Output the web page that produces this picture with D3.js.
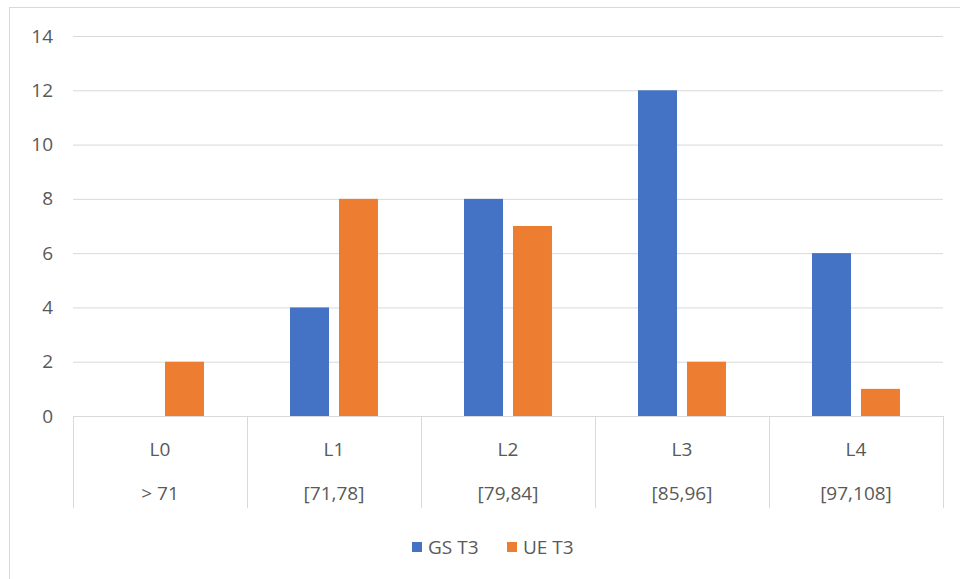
<!DOCTYPE html>
<html>
<head>
<meta charset="utf-8">
<script src="https://cdn.jsdelivr.net/npm/d3@7"></script>
<style>
  html, body { margin: 0; padding: 0; background: #fff; }
  svg { display: block; }
  text { font-family: "Open Sans", "Noto Sans", sans-serif; fill: #595959; }
</style>
</head>
<body>
<svg id="chart" width="960" height="579"></svg>
<script>
const levelLabels = ["L0", "L1", "L2", "L3", "L4"];
const rangeLabels = ["> 71", "[71,78]", "[79,84]", "[85,96]", "[97,108]"];
const seriesNames = ["GS T3", "UE T3"];
const gsValues = [0, 4, 8, 12, 6];
const ueValues = [2, 8, 7, 2, 1];
const yTicks = [0, 2, 4, 6, 8, 10, 12, 14];
const seriesColors = ["#4472C4", "#ED7D31"];

(function () {
const svg = d3.select("#chart");
const W = 960, H = 579;
const pLeft = 73, pRight = 943, pTop = 36, pBottom = 416;

// outer chart border
svg.append("rect")
  .attr("x", 9.5).attr("y", 7.5)
  .attr("width", W + 10).attr("height", H + 10)
  .attr("fill", "#fff").attr("stroke", "#d9d9d9").attr("stroke-width", 1);

const x0 = d3.scaleBand().domain(levelLabels).range([pLeft, pRight]).padding(0);
const x1 = d3.scaleBand().domain(seriesNames).range([0, x0.bandwidth()])
  .paddingInner(0.204).paddingOuter(0.878);
const y = d3.scaleLinear().domain([0, 14]).range([pBottom, pTop]);

// y axis with gridlines
const yAxis = d3.axisLeft(y).tickValues(yTicks).tickSize(-(pRight - pLeft)).tickPadding(20);
const gy = svg.append("g").attr("transform", `translate(${pLeft},0)`).call(yAxis);
gy.select(".domain").remove();
gy.selectAll(".tick line").attr("stroke", "#d9d9d9").attr("stroke-width", 1);
gy.selectAll(".tick text").style("font-size", "19px").style("font-family", "'Open Sans', sans-serif").attr("fill", "#595959");

// data rows
const rows = levelLabels.map((c, i) => ({ cat: c, range: rangeLabels[i], values: [gsValues[i], ueValues[i]] }));

const groups = svg.append("g").selectAll("g").data(rows).join("g")
  .attr("transform", d => `translate(${x0(d.cat)},0)`);
groups.selectAll("rect").data(d => d.values.map((v, j) => ({ key: seriesNames[j], v, j })))
  .join("rect")
  .attr("x", d => x1(d.key))
  .attr("width", x1.bandwidth())
  .attr("y", d => y(d.v))
  .attr("height", d => y(0) - y(d.v))
  .attr("fill", d => seriesColors[d.j]);

// category axis baseline
svg.append("line").attr("x1", pLeft).attr("x2", pRight).attr("y1", pBottom + 0.5).attr("y2", pBottom + 0.5)
  .attr("stroke", "#d9d9d9");

// dividers
const dividers = levelLabels.map(c => x0(c)).concat([pRight]);
svg.append("g").selectAll("line").data(dividers).join("line")
  .attr("x1", d => Math.round(d) + 0.5).attr("x2", d => Math.round(d) + 0.5)
  .attr("y1", pBottom).attr("y2", 508)
  .attr("stroke", "#d9d9d9");

// category labels
svg.append("g").selectAll("text").data(rows).join("text")
  .attr("x", d => x0(d.cat) + x0.bandwidth() / 2)
  .attr("y", 449).attr("dy", "0.35em")
  .attr("text-anchor", "middle").style("font-size", "19px")
  .text(d => d.cat);
svg.append("g").selectAll("text").data(rows).join("text")
  .attr("x", d => x0(d.cat) + x0.bandwidth() / 2)
  .attr("y", 493).attr("dy", "0.35em")
  .attr("text-anchor", "middle").style("font-size", "19px")
  .text(d => d.range);

// legend
const legendX = [412, 507];
const lg = svg.append("g").selectAll("g").data(seriesNames).join("g")
  .attr("transform", (d, i) => `translate(${legendX[i]},547)`);
lg.append("rect").attr("x", 0).attr("y", -5).attr("width", 10).attr("height", 10)
  .attr("fill", (d, i) => seriesColors[i]);
lg.append("text").attr("x", 16).attr("dy", "0.35em").style("font-size", "19px").text(d => d);
})();
</script>
</body>
</html>
